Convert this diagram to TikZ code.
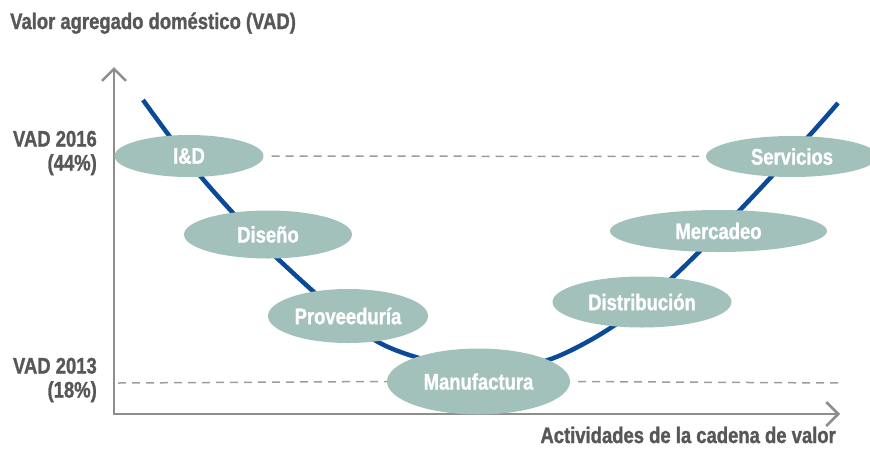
\documentclass[tikz,border=0pt]{standalone}
\usepackage{fontspec}
\setmainfont{Liberation Sans}[FakeStretch=0.82, BoldFeatures={FakeBold=1.2}]
\usepackage{tikz}
\usetikzlibrary{shapes.geometric,arrows.meta}
\usepackage{xcolor}
\definecolor{vadgray}{HTML}{575757}
\definecolor{axisgray}{HTML}{8E8E8E}
\definecolor{dashgray}{HTML}{9C9C9C}
\definecolor{curveblue}{HTML}{0B4A96}
\definecolor{stagegreen}{HTML}{A3C1BB}

\begin{document}
\begin{tikzpicture}[x=1pt, y=-1pt,
        stage/.style={ellipse, fill=stagegreen, text=white, inner sep=0pt,
            font=\fontsize{22.5pt}{24pt}\selectfont\bfseries},
        axislabel/.style={text=vadgray, inner sep=0pt, align=right,
            font=\fontsize{22.5pt}{24pt}\selectfont\bfseries},
        axisline/.style={draw=axisgray, line width=2.5pt,
            {Straight Barb[length=12pt,width=24pt]}-{Straight Barb[length=12pt,width=24pt]}},
        level/.style={draw=dashgray, line width=1.5pt, dash pattern=on 8pt off 6pt}]
        \useasboundingbox (0,0) rectangle (870,448);

        % axes
        \coordinate (o) at (114,414);
        \coordinate (ytop) at (114,67);
        \coordinate (xend) at (840,414);
        \coordinate (l13) at (118,383);
        \coordinate (r13) at (840,383);
        \draw[axisline] (ytop) -- (o) -- (xend);

        % curve
        \draw[curveblue, line width=4.5pt] plot[smooth, tension=0.5] coordinates {
            (143,100) (202,178) (278,259) (378,342) (478,370) (548,360)
            (612,327) (672,278) (740,210) (808,137) (838,103)};

        % stages
        \node[stage, minimum width=149pt, minimum height=42pt] (id) at (189,156) {I\&D};
        \node[stage, minimum width=168pt, minimum height=48pt] (dis) at (268,234.5) {Diseño};
        \node[stage, minimum width=160pt, minimum height=54pt] (prov) at (348,316) {Proveeduría};
        \node[stage, minimum width=183pt, minimum height=66pt] (manu) at (478.5,381.5) {Manufactura};
        \node[stage, minimum width=179pt, minimum height=51pt] (distr) at (642,302) {Distribución};
        \node[stage, minimum width=217pt, minimum height=42pt] (merc) at (718.5,231) {Mercadeo};
        \node[stage, minimum width=172pt, minimum height=41pt] (serv) at (792,156.5) {Servicios};

        % levels
        \draw[level, shorten <=8pt, shorten >=7pt] (id.east) -- (serv.west);
        \draw[level] (l13) -- (manu.west);
        \draw[level, shorten <=8pt] (manu.east) -- (r13);

        % labels
        \node[axislabel, anchor=base west] (ttl) at (10,29) {Valor agregado doméstico (VAD)};
        \node[axislabel, anchor=east] (v16) at (97,153) {VAD 2016\\(44\%)};
        \node[axislabel, anchor=east] (v13) at (97,380) {VAD 2013\\(18\%)};
        \node[axislabel, anchor=base east] (xl) at (836,443) {Actividades de la cadena de valor};
    \end{tikzpicture}
\end{document}
